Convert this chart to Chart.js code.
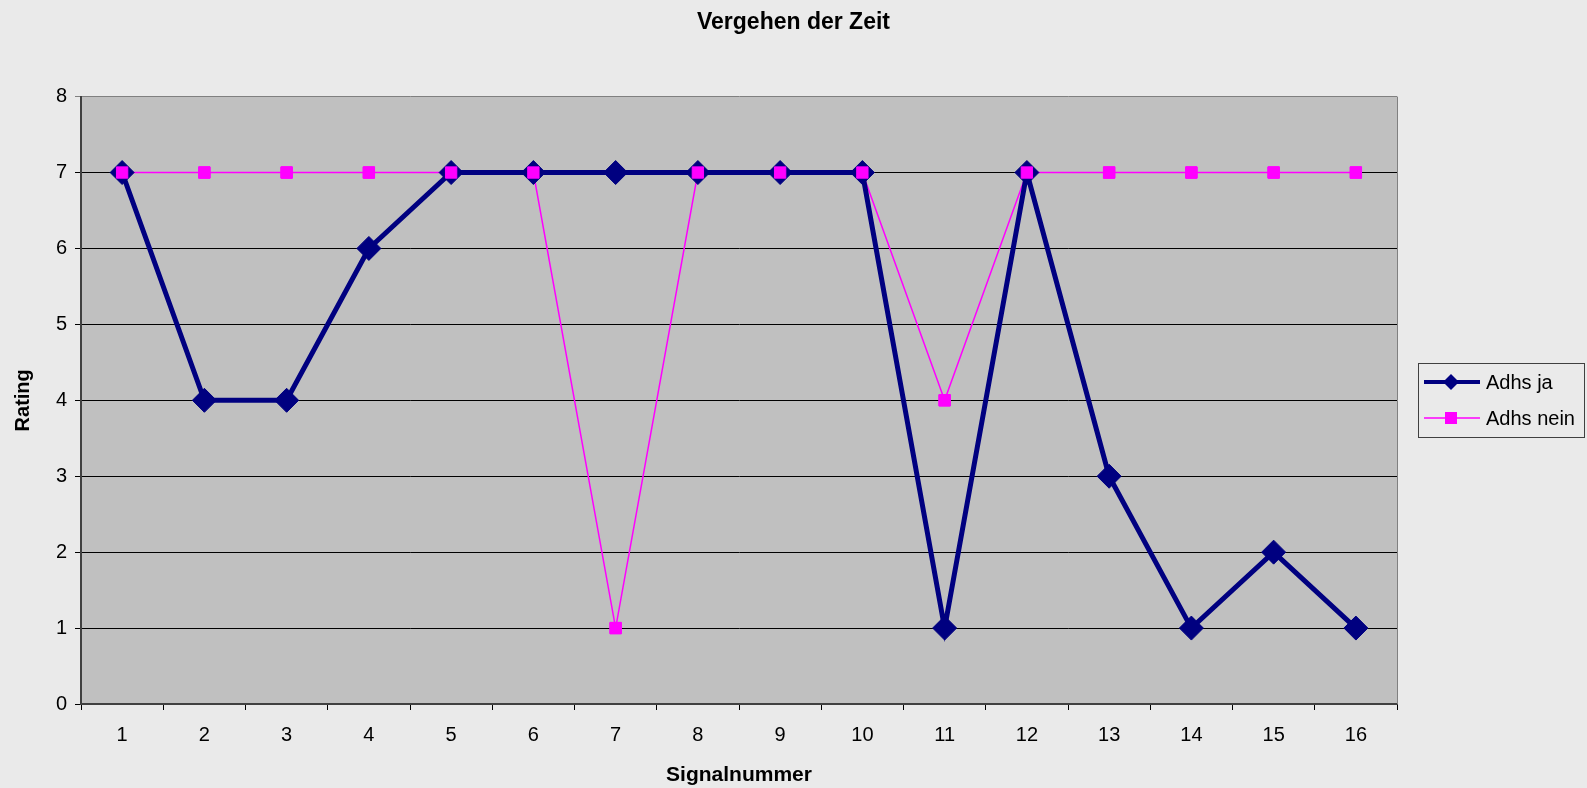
<!DOCTYPE html>
<html>
<head>
<meta charset="utf-8">
<title>Vergehen der Zeit</title>
<script src="https://cdn.jsdelivr.net/npm/chart.js@4/dist/chart.umd.min.js"></script>
<style>
  html, body { margin: 0; padding: 0; background: #eaeaea; }
  #wrap { position: relative; width: 1587px; height: 788px; }
</style>
</head>
<body>
<div id="wrap"><canvas id="zeitChart"></canvas></div>
<script>
// Daten
const signale = ['1', '2', '3', '4', '5', '6', '7', '8', '9', '10', '11', '12', '13', '14', '15', '16'];
const adhsJa = [7, 4, 4, 6, 7, 7, 7, 7, 7, 7, 1, 7, 3, 1, 2, 1];
const adhsNein = [7, 7, 7, 7, 7, 7, 1, 7, 7, 7, 4, 7, 7, 7, 7, 7];
const yTicks = [0, 1, 2, 3, 4, 5, 6, 7, 8];

const NAVY = '#000080';
const MAGENTA = '#ff00ff';

Chart.defaults.font.family = '"Liberation Sans", Arial, sans-serif';
Chart.defaults.color = '#000';

// Hintergrund + Zeichenfläche
const plotBackground = {
  id: 'plotBackground',
  beforeDraw(chart) {
    const { ctx, chartArea: a } = chart;
    ctx.save();
    ctx.fillStyle = '#eaeaea';
    ctx.fillRect(0, 0, chart.width, chart.height);
    ctx.fillStyle = '#c0c0c0';
    ctx.fillRect(a.left, a.top, a.right - a.left, a.bottom - a.top);
    ctx.restore();
  },
  beforeDatasetsDraw(chart) {
    const { ctx, chartArea: a } = chart;
    ctx.save();
    ctx.strokeStyle = '#808080';
    ctx.lineWidth = 1;
    ctx.beginPath();
    ctx.moveTo(a.right + 0.5, a.top);
    ctx.lineTo(a.right + 0.5, a.bottom);
    ctx.stroke();
    ctx.restore();
  },
  // pinke Marker liegen über der blauen Linie (wie in Excel)
  afterDatasetsDraw(chart) {
    const meta = chart.getDatasetMeta(1);
    meta.data.forEach(pt => pt.draw(chart.ctx, chart.chartArea));
  }
};

// Legende mit Rahmen rechts
const boxLegend = {
  id: 'boxLegend',
  afterDraw(chart) {
    const ctx = chart.ctx;
    const x = 1418, y = 363, w = 166, h = 74;
    ctx.save();
    ctx.strokeStyle = '#404040';
    ctx.lineWidth = 1;
    ctx.strokeRect(x + 0.5, y + 0.5, w, h);
    const rows = [y + 19, y + 55];
    chart.data.datasets.forEach((ds, i) => {
      const ry = rows[i];
      ctx.strokeStyle = ds.borderColor;
      ctx.lineWidth = i === 0 ? 4 : 1.5;
      ctx.beginPath();
      ctx.moveTo(x + 6, ry);
      ctx.lineTo(x + 62, ry);
      ctx.stroke();
      ctx.fillStyle = ds.borderColor;
      const cx = x + 33;
      ctx.beginPath();
      if (i === 0) {
        ctx.moveTo(cx - 8, ry);
        ctx.lineTo(cx, ry - 8);
        ctx.lineTo(cx + 8, ry);
        ctx.lineTo(cx, ry + 8);
        ctx.closePath();
      } else {
        ctx.rect(cx - 6, ry - 6, 12, 12);
      }
      ctx.fill();
      ctx.fillStyle = '#000';
      ctx.font = '20px "Liberation Sans", Arial, sans-serif';
      ctx.textBaseline = 'middle';
      ctx.textAlign = 'left';
      ctx.fillText(ds.label, x + 68, ry + 1);
    });
    ctx.restore();
  }
};

const ctxZeit = document.getElementById('zeitChart').getContext('2d');
new Chart(ctxZeit, {
  type: 'line',
  data: {
    labels: signale,
    datasets: [{
      label: 'Adhs ja',
      data: adhsJa,
      borderColor: NAVY,
      backgroundColor: NAVY,
      borderWidth: 5,
      pointStyle: 'rectRot',
      pointRadius: 12,
      pointBorderWidth: 1,
      pointBackgroundColor: NAVY,
      pointBorderColor: NAVY,
      tension: 0,
      fill: false
    }, {
      label: 'Adhs nein',
      data: adhsNein,
      borderColor: MAGENTA,
      backgroundColor: MAGENTA,
      borderWidth: 1.5,
      pointStyle: 'rect',
      pointRadius: 8,
      pointBorderWidth: 1,
      pointBackgroundColor: MAGENTA,
      pointBorderColor: MAGENTA,
      tension: 0,
      fill: false
    }]
  },
  options: {
    responsive: true,
    maintainAspectRatio: false,
    animation: false,
    layout: { padding: 0 },
    plugins: {
      legend: { display: false },
      tooltip: { enabled: false },
      title: {
        display: true,
        text: 'Vergehen der Zeit',
        color: '#000',
        font: { size: 23, weight: 'bold' },
        padding: { top: 9, bottom: 60 }
      }
    },
    scales: {
      x: {
        offset: true,
        grid: { offset: true, drawOnChartArea: false, drawTicks: true, tickLength: 6, color: '#000' },
        border: { color: '#404040', width: 2 },
        ticks: { font: { size: 20 }, padding: 13, color: '#000' },
        title: {
          display: true,
          text: 'Signalnummer',
          color: '#000',
          font: { size: 21, weight: 'bold' },
          padding: { top: 0, bottom: 0 }
        },
        afterFit: s => { s.width = s.width; s.height = 84; }
      },
      y: {
        min: yTicks[0],
        max: yTicks[yTicks.length - 1],
        afterBuildTicks: s => { s.ticks = yTicks.map(v => ({ value: v })); },
        grid: {
          color: c => (c.tick && c.tick.value === yTicks[yTicks.length - 1]) ? '#808080' : '#000',
          tickLength: 6,
          lineWidth: 1
        },
        border: { color: '#404040', width: 2 },
        ticks: { font: { size: 20 }, padding: 8, color: '#000' },
        title: {
          display: true,
          text: 'Rating',
          color: '#000',
          font: { size: 20, weight: 'bold' },
          padding: { top: 11, bottom: 0 }
        },
        afterFit: s => { s.width = 81; }
      },
      // leerer Platz rechts für die Legende
      rechts: {
        type: 'linear',
        position: 'right',
        display: true,
        grid: { display: false },
        border: { display: false },
        ticks: { display: false },
        afterFit: s => { s.width = 190; }
      }
    }
  },
  plugins: [plotBackground, boxLegend]
});
</script>
</body>
</html>
